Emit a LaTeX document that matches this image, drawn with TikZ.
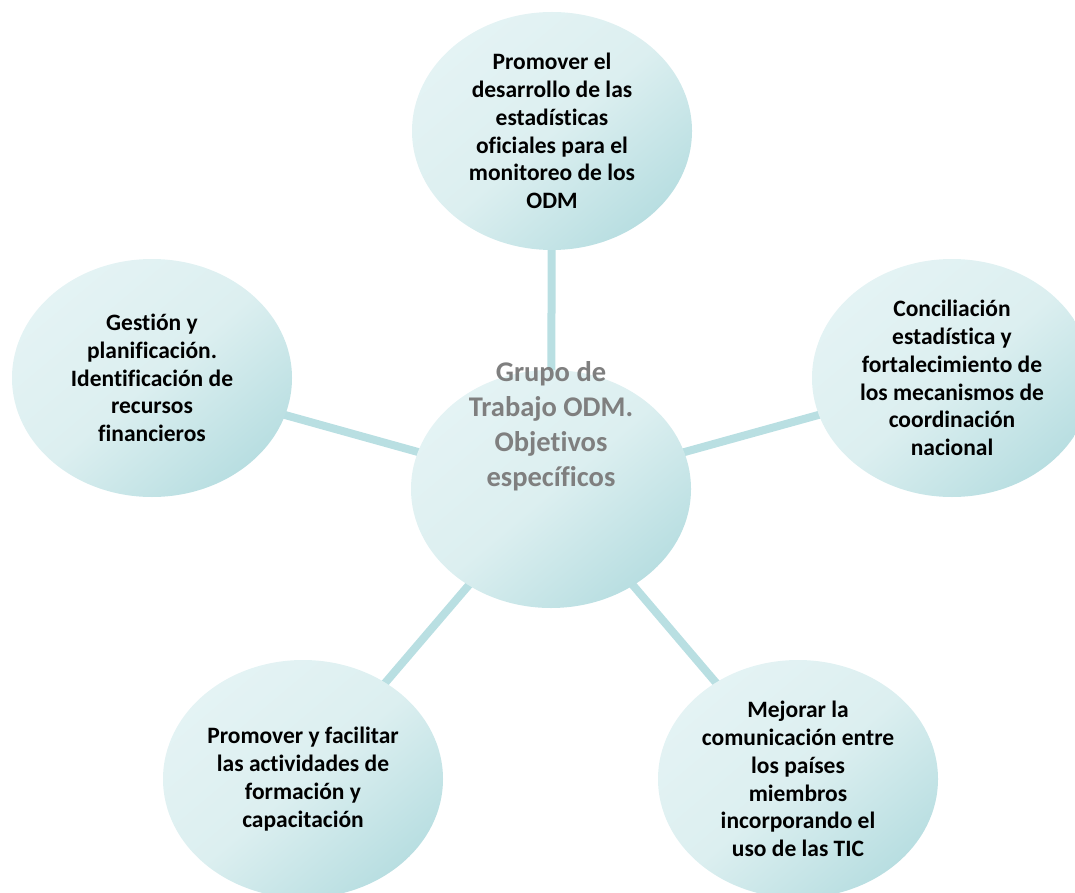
\documentclass[tikz,border=0pt]{standalone}
\usepackage{fontspec}
\setmainfont{Carlito}[Ligatures=NoCommon]
\usetikzlibrary{shapes.geometric,backgrounds}
\definecolor{claro}{HTML}{E4F3F4}
\definecolor{medio}{HTML}{DCEFF0}
\definecolor{oscuro}{HTML}{B8DEE1}
\definecolor{enlace}{HTML}{B9DFE2}
\definecolor{gristxt}{HTML}{7F7F7F}

\begin{document}
\begin{tikzpicture}[x=1pt,y=-1pt]
\tikzstyle{objetivo}=[ellipse, minimum width=280pt, minimum height=238pt, inner sep=0pt, align=center,
  font=\fontsize{23.5}{27.8}\selectfont\bfseries,
  top color=claro, bottom color=oscuro, middle color=medio, shading angle=40]
\tikzstyle{titulo}=[inner sep=0pt, align=center, text=gristxt,
  font=\fontsize{28.5}{35}\selectfont\bfseries]
\tikzstyle{enlace}=[draw=enlace, line width=8pt]
\clip (0,0) rectangle (1075,893);
\draw (551,489) node (grupo) [objetivo] {};
\draw (552,131) node (obj1) [objetivo] {Promover el\\desarrollo de las\\estadísticas\\oficiales para el\\monitoreo de los\\ODM};
\draw (952,378) node (obj2) [objetivo] {Conciliación\\estadística y\\fortalecimiento de\\los mecanismos de\\coordinación\\nacional};
\draw (798,779) node (obj3) [objetivo] {Mejorar la\\comunicación entre\\los países\\miembros\\incorporando el\\uso de las TIC};
\draw (303,779) node (obj4) [objetivo] {Promover y facilitar\\las actividades de\\formación y\\capacitación};
\draw (152,378) node (obj5) [objetivo] {Gestión y\\planificación.\\Identificación de\\recursos\\financieros};
\draw ([yshift=63pt]grupo.center) node (nombre) [titulo] {Grupo de\\Trabajo ODM.\\Objetivos\\específicos};
\begin{scope}[on background layer]
\draw [enlace] (grupo.center) -- (obj1.center);
\draw [enlace] (grupo.center) -- (obj2.center);
\draw [enlace] (grupo.center) -- (obj3.center);
\draw [enlace] (grupo.center) -- (obj4.center);
\draw [enlace] (grupo.center) -- (obj5.center);
\end{scope}
\end{tikzpicture}
\end{document}
